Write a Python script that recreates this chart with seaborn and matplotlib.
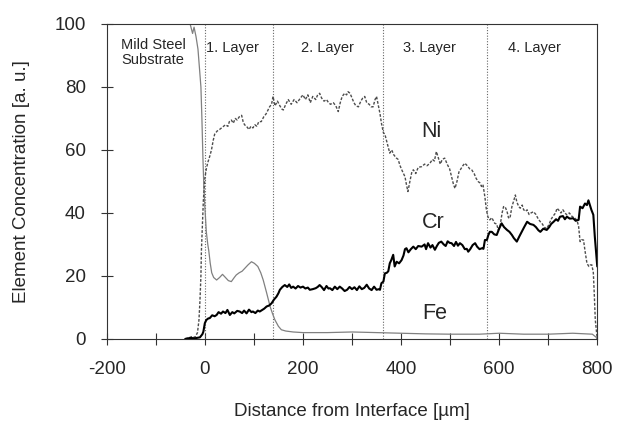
import matplotlib
matplotlib.use("Agg")
import matplotlib.pyplot as plt
import seaborn as sns
import pandas as pd
from matplotlib.ticker import MultipleLocator

# ---------------- data ----------------
fe_x = [-40, -30, -25, -22, -18, -14, -11, -8, -6, -4, -2, 0, 3, 6, 8, 11, 14, 18, 24, 30, 36, 42, 48,
        54, 60, 64, 70, 76, 82, 88, 95, 101, 108, 114, 119, 126, 133, 138, 143, 150, 156, 165, 180,
        200, 250, 300, 350, 400, 450, 500, 560, 600, 650, 700, 750, 790, 798, 800]
fe_y = [100, 100, 97, 99, 96, 92, 86, 80, 70, 58, 48, 42, 34, 30, 28, 24, 21, 19.5, 18.7, 19.5, 20.5,
        19.5, 18.5, 18.2, 19.5, 20.3, 21, 21.5, 22.5, 23.5, 24.5, 24, 23, 21, 18.7, 14.6, 10.3, 8, 6,
        4, 2.9, 2.5, 2.2, 2, 2, 2.2, 2, 1.8, 1.6, 1.5, 1.5, 1.8, 1.5, 1.5, 1.8, 1.5, 0.5, 0]

ni_x = [-40, -30, -25, -20, -15, -12, -10, -8, -7, -5, -3, 0, 3, 6, 10, 13.5, 17, 20, 25, 30, 37, 42,
        47, 50, 54, 58, 62, 66, 70, 75, 78, 81, 85, 90, 94, 98, 102, 106, 110, 115, 120, 125, 132,
        136, 139, 143, 148, 153, 157, 160, 165, 170, 176, 182, 188, 195, 200, 205, 210, 215, 220,
        226, 230, 234, 238, 243, 248, 251, 256, 262, 267, 272, 276, 280, 285, 289, 292, 296, 300,
        304, 308, 313, 318, 322, 326, 330, 335, 339, 343, 347, 350, 354, 357, 360, 364, 367, 372,
        377, 381, 385, 390, 394, 398, 402, 408, 411, 414, 418, 422, 425, 430, 435, 442, 448, 453,
        459, 464, 468, 472, 476, 480, 484, 489, 494, 499, 503, 507, 510, 514, 518, 522, 526, 530,
        535, 540, 544, 549, 553, 557, 561, 564, 567, 571, 574, 577, 581, 585, 591, 595, 598, 602,
        606, 609, 612, 616, 619, 622, 626, 630, 633, 636, 640, 643, 647, 650, 654, 657, 661, 665,
        670, 675, 680, 684, 688, 692, 697, 702, 706, 710, 715, 718, 721, 726, 730, 734, 738, 743,
        748, 752, 755, 759, 762, 765, 768, 772, 775, 779, 783, 786, 789, 792, 794, 796, 799, 800]
ni_y = [0, 0.5, 0.8, 0.5, 2, 6, 12, 20, 28, 36, 44, 51, 54, 56, 58, 60, 63, 65, 66, 66.5, 67.4, 68,
        67.5, 69, 69.5, 68.5, 70, 69.5, 70.5, 71, 69, 68, 67.5, 66.5, 67.5, 67, 68, 67.5, 69, 69,
        70.5, 71.5, 73.7, 74.5, 77, 74, 75.5, 74, 73, 72.7, 74.5, 76, 74.5, 76, 75, 76.5, 77.5, 76,
        77.5, 75, 77, 76, 77.5, 78, 76.5, 75.5, 76, 75.3, 74.5, 75, 74, 72.2, 75, 77, 78, 77.5,
        78.5, 78, 76.5, 75, 74, 73.7, 75.5, 76.5, 77, 75, 74.5, 73.7, 73.7, 76, 77, 74, 71.6, 68.5,
        65.5, 65, 62, 59, 60, 58.5, 57.5, 57, 55, 53.5, 51.5, 49, 46.8, 50, 53, 53.7, 52.5, 54.5,
        54.7, 55.5, 55, 55.8, 57, 56.5, 59.5, 57.5, 55.5, 57, 57.4, 55.5, 54, 51.5, 49, 47.8, 50,
        53, 54, 55, 55.8, 55, 54, 53.7, 52.5, 51, 50, 49.5, 48.4, 49, 45, 41, 38.8, 37.8, 38.5,
        36.7, 36.5, 34.6, 36, 40, 42, 42, 40.5, 38.5, 38.3, 42, 44, 45.7, 43.5, 42, 41.5, 42.5, 41,
        40.5, 41, 39.5, 40, 40.4, 39.5, 38, 37.2, 36.5, 35.5, 35, 36.5, 38, 39, 40, 41.5, 41, 40,
        41, 40, 39.4, 40, 39, 38.5, 38.3, 37.5, 35.7, 30.9, 31.5, 31.4, 28, 24, 23, 23.5, 23.5, 21,
        14, 6, 1.3, 0]

cr_x = [-40, -30, -20, -17, -10, -5, -3, 0, 3, 7, 10, 15, 20, 24, 28, 33, 37, 42, 46, 51, 56, 60,
        66, 71, 76, 80, 85, 90, 95, 98, 103, 108, 112, 117, 121, 126, 131, 136, 141, 146, 150, 153,
        158, 163, 168, 172, 176, 180, 185, 190, 195, 200, 205, 210, 214, 220, 226, 230, 234, 238,
        243, 248, 252, 255, 260, 265, 270, 275, 280, 285, 290, 295, 300, 305, 310, 315, 320, 325,
        330, 335, 340, 345, 350, 355, 357, 360, 364, 367, 371, 374, 377, 380, 384, 387, 391, 396,
        401, 405, 408, 411, 415, 420, 425, 430, 435, 442, 448, 451, 455, 460, 464, 469, 473, 477,
        482, 487, 491, 495, 499, 503, 508, 512, 516, 520, 525, 530, 534, 537, 541, 546, 551, 555,
        560, 565, 568, 571, 575, 578, 581, 585, 590, 595, 600, 605, 610, 616, 621, 626, 630, 636,
        641, 646, 651, 657, 663, 670, 675, 680, 684, 690, 697, 702, 706, 711, 716, 720, 724, 730,
        734, 738, 744, 751, 756, 762, 765, 770, 775, 779, 782, 785, 788, 792, 795, 798, 800]
cr_y = [0, 0.3, 0.2, 0.3, 0.5, 1.5, 2.3, 5, 6, 6.5, 6.6, 7.5, 7.2, 7.6, 8.5, 8, 8.7, 8.2, 9.2, 7.6,
        8.5, 8.1, 8.9, 8.7, 8.2, 9, 8.1, 9.3, 8.5, 8.7, 8.2, 9, 8.7, 9.2, 9.6, 10.3, 10.6, 11.3,
        12.5, 13.4, 14.5, 15.6, 16.5, 17.1, 16.5, 17.3, 16.2, 16.6, 16, 16.8, 16.3, 16.6, 16, 16.3,
        15.6, 15.8, 16.1, 16.5, 17.1, 16.5, 15.5, 16.8, 16, 16.1, 15.5, 16.6, 15.8, 16.6, 16, 15.2,
        15.6, 16.5, 15.8, 16.4, 15.5, 16.7, 15.8, 16.2, 17.2, 16, 15.5, 16.6, 15.6, 15.8, 15.6,
        17.7, 18.2, 20.8, 21, 21.5, 24, 25, 26.7, 23, 24.5, 24, 25, 26.5, 28.5, 28.8, 27.5, 28.5,
        29.3, 28.5, 29.5, 29.3, 30, 28.5, 30.4, 29, 29.8, 28.3, 29.5, 30.5, 30.9, 30, 29.5, 31,
        30.5, 30.4, 29.5, 30.8, 29.6, 30.4, 29.8, 28.5, 28.6, 27.7, 28.5, 29.8, 30.4, 29.3, 28.5,
        28.8, 28.6, 31.4, 31.4, 33, 34, 34, 33.2, 33, 35, 36.7, 35.5, 34.6, 34, 33, 32, 30.9, 32.5,
        34, 35.5, 37.2, 36.5, 36.2, 35.5, 34.5, 34, 35, 34.6, 35.5, 36.5, 37.2, 38, 37.5, 38.8, 39,
        38, 38.8, 38.2, 38.3, 37.5, 37.8, 42, 41.5, 43, 42.5, 44, 42.5, 41, 39.4, 32.5, 27, 23]

layer_bounds = [0, 138, 364, 576]
layer_names = ["1. Layer", "2. Layer", "3. Layer", "4. Layer"]
layer_label_x = [57, 250, 458, 671]
substrate_label = "Mild Steel\nSubstrate"
element_names = ["Ni", "Cr", "Fe"]
element_label_x = [462, 466, 469]
element_label_y = [66, 37, 8]

# ---------------- style ----------------
sns.set_style("ticks")
plt.rcParams["font.family"] = ["Liberation Sans", "DejaVu Sans"]
plt.rcParams["axes.unicode_minus"] = False

fig = plt.figure(figsize=(6.17, 4.21), dpi=100)
ax = fig.add_axes([0.173, 0.195, 0.795, 0.748])

for xb in layer_bounds:
    ax.axvline(xb, color="0.4", lw=0.8, ls=(0, (1, 1.5)), zorder=1)

sns.lineplot(x=fe_x, y=fe_y, ax=ax, color="0.5", lw=0.9, zorder=2)
sns.lineplot(x=ni_x, y=ni_y, ax=ax, color="0.3", lw=1.0, ls=(0, (2, 1.2)), zorder=3)
sns.lineplot(x=cr_x, y=cr_y, ax=ax, color="black", lw=1.5, zorder=4)

ax.set_xlim(-200, 800)
ax.set_ylim(0, 100)
ax.xaxis.set_major_locator(MultipleLocator(200))
ax.xaxis.set_minor_locator(MultipleLocator(100))
ax.yaxis.set_major_locator(MultipleLocator(20))
ax.tick_params(axis="both", which="both", direction="inout", length=8, width=0.8,
               color="0.2", labelsize=13.5)
ax.tick_params(axis="x", which="major", pad=12)
ax.tick_params(axis="y", which="major", pad=11)
for s in ax.spines.values():
    s.set_linewidth(0.8)
    s.set_color("0.2")

ax.set_xlabel("Distance from Interface [µm]", fontsize=13.5, labelpad=18)
ax.set_ylabel("Element Concentration [a. u.]", fontsize=13.5, labelpad=18)

ax.text(-170, 95.5, substrate_label, fontsize=10.5, va="top", ha="left", linespacing=1.05)
for lx, name in zip(layer_label_x, layer_names):
    ax.text(lx, 92.4, name, fontsize=10.5, va="center", ha="center")
for ex, ey, name in zip(element_label_x, element_label_y, element_names):
    ax.text(ex, ey, name, fontsize=15.5, va="center", ha="center")

fig.savefig("out.png", dpi=100)
